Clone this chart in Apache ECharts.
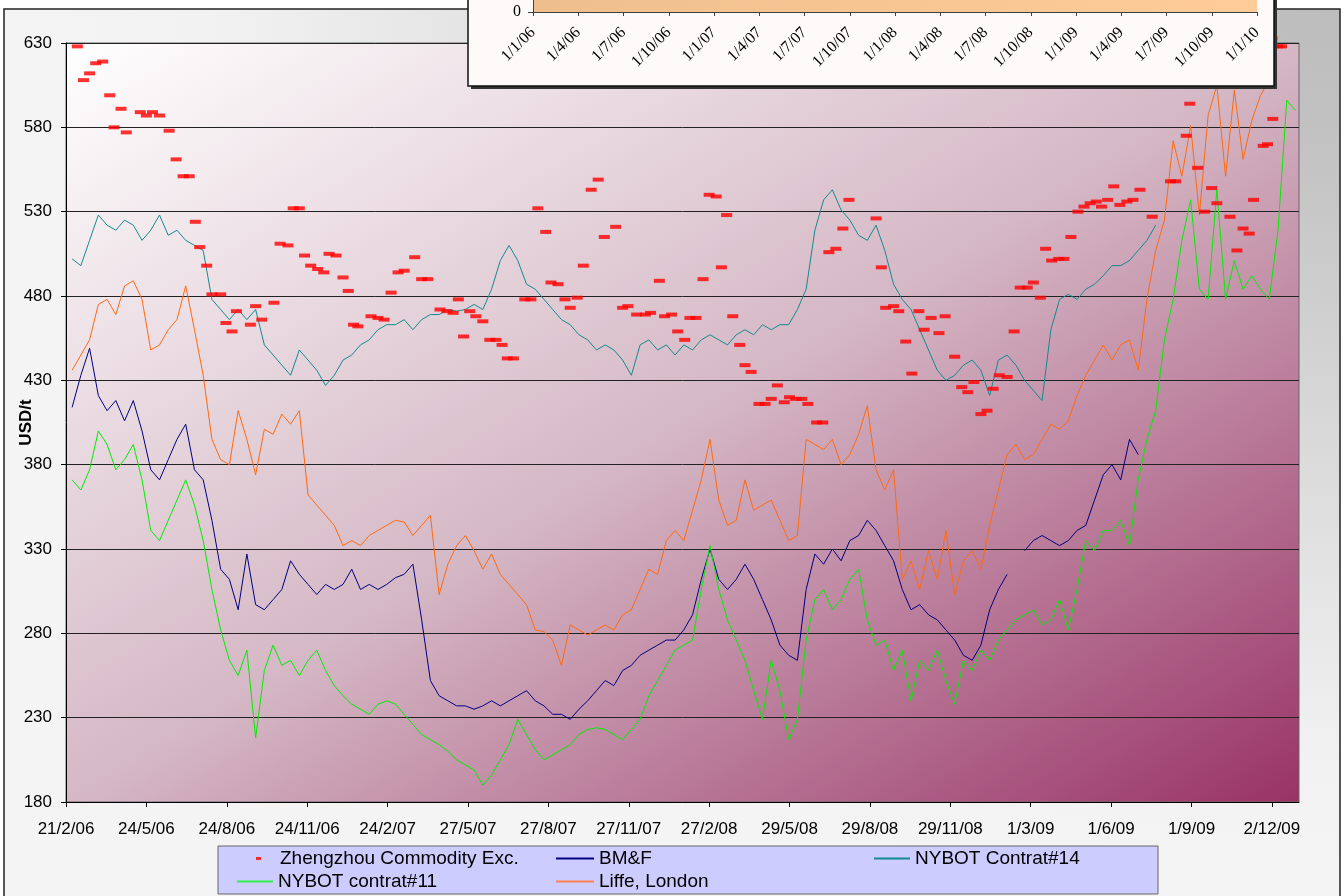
<!DOCTYPE html>
<html><head><meta charset="utf-8">
<script src="https://cdn.jsdelivr.net/npm/echarts@6/dist/echarts.min.js"></script>
<style>html,body{margin:0;padding:0;background:#fff}#c{width:1344px;height:896px}</style>
</head><body><div id="c"></div>
<script>
// ---- data ----
const BASE_DATE = Date.UTC(2006, 1, 21);   // day 0 = 21/2/06
const X_STEP_DAYS = 92;
const X_MAX_DAYS = 1411;
const Y_MIN = 180, Y_MAX = 630, Y_STEP = 50;

const lineStartDay = 7, lineStepDays = 10;
const nybot14 = [502,498,513,528,522,519,525,522,513,519,528,516,519,513,510,507,478,472,466,472,466,472,451,445,439,433,448,442,436,427,433,442,445,451,454,460,463,463,466,460,466,469,469,472,471,472,475,472,484,501,510,501,487,484,478,472,466,463,457,454,448,451,448,442,433,451,454,448,451,445,451,448,454,457,454,451,457,460,457,463,460,463,463,472,484,519,537,543,531,525,516,513,522,507,487,478,472,460,448,436,430,433,439,442,436,421,442,445,439,430,424,418,460,478,481,478,484,487,492,498,498,501,507,513,522];
const nybot11 = [371,365,377,400,392,377,383,392,371,341,335,347,359,371,356,335,306,282,264,255,270,218,258,273,261,264,255,264,270,258,249,243,238,235,232,238,240,238,232,226,220,217,214,210,205,202,199,190,196,205,214,229,220,211,205,208,211,214,220,223,224,223,220,217,223,229,243,252,261,270,273,276,306,332,306,288,276,264,246,229,264,246,217,229,276,300,306,294,300,312,318,288,273,276,258,270,240,264,258,270,252,238,264,258,270,264,276,282,288,291,294,285,288,300,282,306,335,329,341,341,347,332,371,395,412,454,478,513,537,484,478,543,478,501,484,492,484,478,519,596,590];
const bmf = [414,433,449,421,412,418,406,418,400,377,371,383,395,404,377,371,347,318,312,294,327,297,294,300,306,323,315,309,303,309,306,309,318,306,309,306,309,313,315,321,288,252,243,240,237,237,235,237,240,237,240,243,246,240,237,232,232,229,235,240,246,252,249,258,261,267,270,273,276,276,282,291,312,330,312,306,312,321,312,300,288,273,267,264,306,327,321,330,323,335,338,347,341,332,323,306,294,297,291,288,282,276,267,264,273,294,306,315,null,329,335,338,335,332,335,341,344,359,374,380,371,395,386];
const liffe = [436,445,454,475,478,469,486,489,478,448,451,460,466,486,460,433,395,383,380,412,395,374,401,398,410,404,412,362,356,350,344,332,335,332,338,341,344,347,346,338,344,350,303,321,332,338,329,318,327,315,309,303,297,282,281,276,261,285,282,279,282,285,282,291,294,306,318,315,335,341,335,353,371,395,359,344,347,371,353,356,359,347,335,338,395,392,389,395,380,386,398,415,377,365,377,312,323,306,329,312,341,303,323,329,318,344,365,386,392,383,386,395,404,401,406,421,433,442,451,442,451,454,436,478,507,525,572,551,581,528,587,605,551,602,561,584,599,608,634];

const zzDays = [13,20,27,34,42,50,55,63,69,85,92,99,107,118,126,134,141,148,153,161,167,177,183,190,195,211,217,224,238,245,254,260,267,273,280,288,295,301,309,317,323,329,334,349,357,364,372,380,387,399,407,414,428,436,443,449,455,462,469,477,485,492,499,505,512,525,532,540,549,555,563,571,577,585,592,601,609,616,629,637,643,653,663,669,679,685,693,700,708,714,721,729,736,744,750,756,763,771,777,784,793,800,807,814,822,828,835,842,849,859,866,873,881,889,896,927,933,938,947,953,961,968,976,982,990,999,1006,1017,1025,1032,1039,1047,1054,1061,1068,1077,1085,1092,1100,1107,1115,1121,1128,1136,1142,1150,1158,1165,1172,1179,1185,1192,1199,1206,1214,1221,1229,1243,1264,1270,1282,1286,1295,1303,1311,1317,1332,1340,1347,1354,1359,1370,1375,1381,1387,1391];
const zzValues = [628,608,612,618,619,599,580,591,577,589,587,589,587,578,561,551,551,524,509,498,481,481,464,459,471,463,474,466,476,511,510,532,532,504,498,496,494,505,504,491,483,463,462,468,467,466,482,494,495,503,490,490,472,471,470,478,456,471,468,465,454,454,451,443,443,478,478,532,518,488,487,478,473,479,498,543,549,515,521,473,474,469,469,470,489,468,469,459,454,467,467,490,540,539,497,528,468,451,439,435,416,416,419,427,417,420,419,419,416,405,405,506,508,520,537,526,497,473,474,471,453,434,471,460,467,458,468,444,426,423,429,410,412,425,433,432,459,485,485,488,479,508,501,502,502,515,530,533,535,536,533,537,545,534,536,537,543,527,548,548,575,594,556,530,544,535,527,507,520,517,537,569,570,585,628,628];

const insetCategories = ['1/1/06','1/4/06','1/7/06','1/10/06','1/1/07','1/4/07','1/7/07','1/10/07','1/1/08','1/4/08','1/7/08','1/10/08','1/1/09','1/4/09','1/7/09','1/10/09','1/1/10'];
const insetValues = [100,100,100,100,100,100,100,100,100,100,100,100,100,100,100,100,100];

const seriesNames = ['Zhengzhou Commodity Exc.','BM&F','NYBOT Contrat#14','NYBOT contrat#11','Liffe, London'];

// ---- build ----
const pairs = arr => arr.map((v, i) => [lineStartDay + i * lineStepDays, v]);
const zzPairs = zzDays.map((d, i) => [d, zzValues[i]]);
function dayLabel(v) {
  if (v % X_STEP_DAYS !== 0) return '';
  const d = new Date(BASE_DATE + v * 86400000);
  return d.getUTCDate() + '/' + (d.getUTCMonth() + 1) + '/' + String(d.getUTCFullYear()).slice(2);
}
const FONT = 'Liberation Sans, Arial, sans-serif';
const SERIF = 'Liberation Serif, Times New Roman, serif';
const chart = echarts.init(document.getElementById('c'), null, {renderer: 'canvas'});
const G = echarts.graphic;

const legendBase = {orient: 'horizontal', itemGap: 0, selectedMode: false, padding: 0,
  textStyle: {fontFamily: FONT, fontSize: 19, color: '#000'}, icon: 'rect', itemWidth: 37, itemHeight: 2};

chart.setOption({
  backgroundColor: '#ffffff',
  animation: false,
  textStyle: {fontFamily: FONT},
  graphic: [
    {type: 'rect', z: -100, x: 4, y: 9, scaleY: 0.664, silent: true,
      shape: {x: 0, y: 0, width: 1336, height: 1336},
      style: {fill: new G.RadialGradient(1, 0, 1, [{offset: 0, color: '#bdbdbd'}, {offset: 0.15, color: '#c2c2c2'}, {offset: 0.85, color: '#f2f2f2'}, {offset: 1, color: '#f4f4f4'}])}},
    {type: 'rect', z: -99, silent: true, shape: {x: 4, y: 9, width: 1336, height: 900},
      style: {fill: 'none', stroke: '#222', lineWidth: 1.5}},
    {type: 'rect', z: 3, shape: {x: 218, y: 846, width: 940, height: 48},
      style: {fill: '#ccccff', stroke: '#666', lineWidth: 1}},
    {type: 'rect', z: 49, shape: {x: 471, y: -10, width: 806, height: 99}, style: {fill: '#333'}},
    {type: 'rect', z: 50, shape: {x: 468, y: -12, width: 806, height: 98},
      style: {fill: '#fefafa', stroke: '#111', lineWidth: 1.5}}
  ],
  legend: [
    Object.assign({}, legendBase, {data: [seriesNames[0]], left: 256, top: 849, itemWidth: 5, itemHeight: 3,
      textStyle: {fontFamily: FONT, fontSize: 19, color: '#000', padding: [0, 0, 0, 14]}}),
    Object.assign({}, legendBase, {data: [seriesNames[1]], left: 556, top: 849, itemWidth: 38}),
    Object.assign({}, legendBase, {data: [seriesNames[2]], left: 874, top: 849, itemWidth: 36}),
    Object.assign({}, legendBase, {data: [seriesNames[3]], left: 237, top: 872, itemWidth: 36}),
    Object.assign({}, legendBase, {data: [seriesNames[4]], left: 556, top: 872, itemWidth: 38})
  ],
  grid: [
    {left: 66, top: 43, right: 45, bottom: 94, show: true, borderColor: '#666', borderWidth: 1,
      outerBoundsMode: 'none', containLabel: false,
      backgroundColor: new G.LinearGradient(0, 0, 0.55, 1.45, [{offset: 0, color: '#ffffff'}, {offset: 0.5, color: '#d5b8c5'}, {offset: 1, color: '#993366'}])},
    {left: 533, top: -150, right: 87, bottom: 884, outerBoundsMode: 'none', containLabel: false}
  ],
  xAxis: [
    {type: 'value', gridIndex: 0, min: 0, max: X_MAX_DAYS, interval: X_STEP_DAYS,
      axisLine: {lineStyle: {color: '#000', width: 1}}, axisTick: {show: true, length: 5, lineStyle: {color: '#000'}},
      axisLabel: {fontSize: 17, color: '#000', margin: 19, formatter: dayLabel, showMaxLabel: false},
      splitLine: {show: false}},
    {type: 'category', gridIndex: 1, data: insetCategories, boundaryGap: false, z: 60,
      axisLine: {lineStyle: {color: '#404040'}}, axisTick: {show: true, length: 4, lineStyle: {color: '#404040'}},
      axisLabel: {rotate: 45, fontSize: 16, fontFamily: SERIF, color: '#000', interval: 0, margin: 18}}
  ],
  yAxis: [
    {type: 'value', gridIndex: 0, min: Y_MIN, max: Y_MAX, interval: Y_STEP,
      name: 'USD/t', nameLocation: 'middle', nameGap: 31, nameRotate: 90, nameMoveOverlap: false,
      nameTextStyle: {fontSize: 17, fontWeight: 'bold', color: '#000'},
      axisLine: {show: true, lineStyle: {color: '#000'}}, axisTick: {show: true, length: 5, lineStyle: {color: '#000'}},
      axisLabel: {fontSize: 17, color: '#000', margin: 14},
      splitLine: {show: true, lineStyle: {color: '#222', width: 1}}},
    {type: 'value', gridIndex: 1, min: 0, max: 100, interval: 50, z: 60,
      axisLine: {show: true, lineStyle: {color: '#404040'}}, axisTick: {show: true, length: 5, lineStyle: {color: '#404040'}},
      axisLabel: {fontSize: 16, fontFamily: SERIF, color: '#000', margin: 12}, splitLine: {show: false}}
  ],
  series: [
    {name: seriesNames[0], type: 'scatter', data: zzPairs, symbol: 'rect', symbolSize: [11, 4],
      itemStyle: {color: '#ff0000'}, z: 5},
    {name: seriesNames[1], type: 'line', data: pairs(bmf), showSymbol: false, symbol: 'none', connectNulls: false,
      lineStyle: {color: '#000080', width: 1}, itemStyle: {color: '#000080'}, z: 3},
    {name: seriesNames[2], type: 'line', data: pairs(nybot14), showSymbol: false, symbol: 'none',
      lineStyle: {color: '#138a8e', width: 1}, itemStyle: {color: '#138a8e'}, z: 3},
    {name: seriesNames[3], type: 'line', data: pairs(nybot11), showSymbol: false, symbol: 'none',
      lineStyle: {color: '#00ee00', width: 1}, itemStyle: {color: '#33ee44'}, z: 3},
    {name: seriesNames[4], type: 'line', data: pairs(liffe), showSymbol: false, symbol: 'none', clip: false,
      lineStyle: {color: '#ff6a10', width: 1}, itemStyle: {color: '#ff8050'}, z: 3},
    {name: 'inset', type: 'line', xAxisIndex: 1, yAxisIndex: 1, data: insetValues, symbol: 'none', z: 60,
      lineStyle: {width: 0}, areaStyle: {opacity: 1, color: new G.LinearGradient(0, 0, 1, 0, [{offset: 0, color: '#eebf8d'}, {offset: 1, color: '#ffcc99'}])}}
  ]
});
</script></body></html>
